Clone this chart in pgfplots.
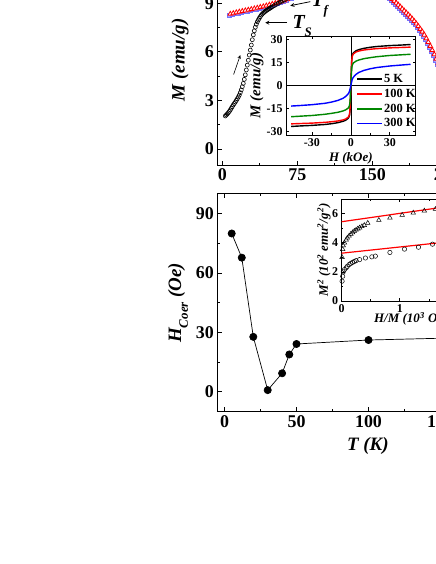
\documentclass[border=0pt]{standalone}
\usepackage{pgfplots}
\pgfplotsset{compat=1.18}
\usepackage{fontspec}
\setmainfont{Liberation Serif}
\newcommand{\fs}[1]{\fontsize{#1}{#1}\selectfont}
\definecolor{mygreen}{RGB}{0,135,0}
\pgfplotsset{
 base/.style={scale only axis, tick align=inside,
   axis line style={line width=1.1bp},
   major tick style={line width=0.9bp, black}, minor tick style={line width=0.8bp, black},
   major tick length=4.5bp, minor tick length=2.5bp,
   /pgf/number format/assume math mode=true,
   axis background/.style={fill=white}},
 main/.style={base, tick label style={font=\bfseries\fs{18}}, label style={font=\bfseries\itshape\fs{19}}},
 inset/.style={base, axis line style={line width=0.8bp}, major tick style={line width=0.7bp}, minor tick style={line width=0.6bp},
   major tick length=3bp, minor tick length=1.8bp,
   tick label style={font=\bfseries\fs{12}}, label style={font=\bfseries\itshape\fs{13}}},
}
\pgfplotstableread{
T M
3 2.04
4 2.10
5 2.17
6 2.24
7 2.32
8 2.41
9 2.52
10 2.62
11 2.72
12 2.81
13 2.90
14 3.00
15 3.10
16 3.21
17 3.33
18 3.48
19 3.65
20 3.85
21 4.05
22 4.30
23 4.58
24 4.88
25 5.18
26 5.48
27 5.80
28 6.11
29 6.42
30 6.75
31 7.05
32 7.30
33 7.52
34 7.70
35 7.85
36 7.97
37 8.08
38 8.18
39 8.27
40 8.34
41 8.40
42 8.45
43 8.50
44 8.55
45 8.59
46 8.63
47 8.67
48 8.71
49 8.75
50 8.79
52 8.86
54 8.93
56 9.00
58 9.07
60 9.14
62 9.21
65 9.30
70 9.42
}\zfc
\pgfplotstableread{
T M
8 8.34
11 8.38
14 8.43
17 8.47
20 8.51
23 8.55
26 8.59
29 8.63
32 8.67
35 8.71
38 8.76
41 8.80
44 8.85
47 8.90
50 8.95
53 9.00
56 9.05
59 9.10
62 9.16
65 9.24
70 9.38
80 9.62
90 9.85
100 10.05
110 10.2
120 10.3
130 10.35
140 10.3
150 10.15
155 10.0
160 9.8
162 9.7
164 9.6
166 9.5
168 9.38
170 9.26
172 9.14
174 9.02
176 8.90
178 8.78
180 8.65
182 8.53
184 8.41
186 8.29
188 8.16
190 8.03
192 7.89
194 7.74
196 7.58
198 7.41
200 7.24
202 7.05
204 6.83
206 6.60
208 6.36
210 6.10
212 5.84
214 5.57
216 5.30
218 5.02
220 4.74
}\fc
\begin{document}
\begin{tikzpicture}[>=stealth]
\useasboundingbox (0bp,0bp) rectangle (436bp,564bp);
\clip (0bp,0bp) rectangle (436bp,564bp);
% ---------------- top main panel
\begin{axis}[main, at={(217.3bp,398.8bp)}, anchor=south west,
  width=305bp, height=210.5bp, xmin=-5, xmax=300, ymin=-1, ymax=12,
  xtick={0,75,150,225,300}, ytick={0,3,6,9,12}, minor x tick num=1, minor y tick num=1,
  ylabel={M (emu/g)}, ylabel style={at={(axis description cs:-0.122,0.5)}, anchor=center}]
\addplot[only marks, mark=square*, mark size=1.7bp, draw=blue!55, fill=blue!35,
  every mark/.append style={xshift=-1bp, yshift=-1.3bp}] table[x=T,y=M] {\fc};
\addplot[only marks, mark=triangle*, mark size=2.7bp, draw=red, fill=white, line width=0.8bp] table[x=T,y=M] {\fc};
\addplot[only marks, mark=o, mark size=2bp, black, line width=0.6bp] table[x=T,y=M] {\zfc};
\draw[->, line width=0.6bp] (axis cs:11.3,4.6) -- (axis cs:18,5.8);
\draw[->, line width=0.8bp] (axis cs:64.7,7.8) -- (axis cs:43,7.8);
\draw[->, line width=0.8bp] (axis cs:88,9.1) -- (axis cs:68,8.85);
\node[anchor=base west, inner sep=0pt, font=\bfseries\itshape\fs{20}] at (axis cs:70,7.47) {T\raisebox{-0.4em}{\fs{13}S}};
\node[anchor=base west, inner sep=0pt, font=\bfseries\itshape\fs{20}] at (axis cs:89,8.79) {T\raisebox{-0.4em}{\fs{13}f}};
\end{axis}
% ---------------- top inset
\begin{axis}[inset, at={(286bp,429bp)}, anchor=south west,
  width=129.7bp, height=99bp, xmin=-50, xmax=50, ymin=-32.5, ymax=32.5,
  xtick={-30,0,30}, ytick={-30,-15,0,15,30}, minor x tick num=1,
  xlabel={H (kOe)}, ylabel={M (emu/g)},
  xlabel style={at={(axis description cs:0.5,-0.232)}, anchor=center},
  ylabel style={at={(axis description cs:-0.226,0.5)}, anchor=center, font=\bfseries\itshape\fs{15}},
  legend style={at={(axis cs:4,8.2)}, anchor=north west, draw=none, fill=none,
    font=\bfseries\fs{12.5}, inner sep=0pt, row sep=2.6bp, nodes={inner sep=1.2bp}},
  legend cell align=left,
  legend image code/.code={\draw[#1, line width=1.7bp] (0bp,0bp) -- (25bp,0bp);}]
\draw[line width=0.7bp] (axis cs:-50,0) -- (axis cs:50,0);
\draw[line width=0.7bp] (axis cs:0,-32.5) -- (axis cs:0,32.5);
\addplot[black, line width=1.4bp] coordinates {(-46,-26.9) (-40,-26.6) (-30,-26.2) (-20,-25.6) (-15,-25.1) (-10,-24.4) (-6,-23.5) (-4,-22.8) (-2,-21.5) (-1.5,-20.7) (-1,-19.5) (-0.6,-16) (-0.3,-9) (0,0) (0.3,9) (0.6,16) (1,19.5) (1.5,20.7) (2,21.5) (4,22.8) (6,23.5) (10,24.4) (15,25.1) (20,25.6) (30,26.2) (40,26.6) (46,26.9)};
\addlegendentry{5 K}
\addplot[red, line width=1.4bp] coordinates {(-46,-25.2) (-40,-25.0) (-30,-24.7) (-20,-24.2) (-15,-23.8) (-10,-23.3) (-6,-22.6) (-4,-22) (-2,-20.8) (-1.5,-20) (-1,-18.8) (-0.6,-15) (-0.3,-8) (0,0) (0.3,8) (0.6,15) (1,18.8) (1.5,20) (2,20.8) (4,22) (6,22.6) (10,23.3) (15,23.8) (20,24.2) (30,24.7) (40,25.0) (46,25.2)};
\addlegendentry{100 K}
\addplot[mygreen, line width=1.4bp] coordinates {(-46,-20.5) (-40,-20.2) (-30,-19.7) (-20,-18.9) (-15,-18.3) (-10,-17.6) (-6,-16.7) (-4,-16) (-2,-14.8) (-1.5,-14.1) (-1,-13) (-0.6,-10.5) (-0.3,-6) (0,0) (0.3,6) (0.6,10.5) (1,13) (1.5,14.1) (2,14.8) (4,16) (6,16.7) (10,17.6) (15,18.3) (20,18.9) (30,19.7) (40,20.2) (46,20.5)};
\addlegendentry{200 K}
\addplot[blue, line width=1.4bp] coordinates {(-46,-13.5) (-40,-13.2) (-30,-12.6) (-20,-11.7) (-15,-10.9) (-10,-9.8) (-6,-8.4) (-4,-7.2) (-3,-6.4) (-2,-5.4) (-1.5,-4.7) (-1,-3.7) (-0.5,-2) (0,0) (0.5,2) (1,3.8) (1.5,4.8) (2,5.5) (3,6.5) (4,7.3) (6,8.5) (10,9.9) (15,11) (20,11.8) (30,12.8) (40,13.5) (46,13.9)};
\addlegendentry{300 K}
\end{axis}
% ---------------- bottom main panel
\begin{axis}[main, at={(217.3bp,152.3bp)}, anchor=south west,
  width=302.4bp, height=217.8bp, xmin=-5, xmax=205, ymin=-10, ymax=100,
  xtick={0,50,100,150,200}, ytick={0,30,60,90}, minor x tick num=1, minor y tick num=1,
  xlabel={T (K)}, ylabel={H\raisebox{-0.35em}{\fs{13}Coer} (Oe)},
  xlabel style={at={(axis description cs:0.498,-0.158)}, anchor=center},
  ylabel style={at={(axis description cs:-0.13,0.5)}, anchor=center}]
\addplot[black, line width=0.7bp, mark=*, mark size=3.6bp] coordinates {(5,80) (12,67.8) (20,27.8) (30,0.9) (40,9.4) (45,18.9) (50,24.2) (100,26.2) (150,27.1) (200,27.9)};
\end{axis}
% ---------------- bottom inset
\begin{axis}[inset, at={(341.5bp,263bp)}, anchor=south west,
  width=175bp, height=102bp, xmin=0, xmax=3, ymin=0, ymax=7,
  xtick={0,1,2,3}, ytick={0,2,4,6}, minor x tick num=1, minor y tick num=1,
  xlabel={H/M (10\textsuperscript{3} Oe g/emu)}, ylabel={M\textsuperscript{2} (10\textsuperscript{2} emu\textsuperscript{2}/g\textsuperscript{2})},
  xlabel style={at={(axis description cs:0.5,-0.175)}, anchor=center},
  ylabel style={at={(axis description cs:-0.1,0.5)}, anchor=center}]
\addplot[red, line width=1.2bp] coordinates {(0,5.44) (3,7.16)};
\addplot[red, line width=1.2bp] coordinates {(0,3.28) (3,4.56)};
\addplot[only marks, mark=triangle, mark size=2.6bp, black, line width=0.5bp] coordinates {(0.01,3.0) (0.02,3.55) (0.03,3.8) (0.05,4.0) (0.08,4.2) (0.10,4.33) (0.13,4.47) (0.16,4.6) (0.19,4.7) (0.22,4.8) (0.25,4.88) (0.28,4.96) (0.31,5.03) (0.35,5.12) (0.39,5.2) (0.45,5.35) (0.64,5.55) (0.83,5.71) (1.04,5.9) (1.23,6.05) (1.42,6.19) (1.61,6.3) (1.8,6.42) (2.0,6.55) (2.2,6.67) (2.4,6.79)};
\addplot[only marks, mark=o, mark size=2.2bp, black, line width=0.5bp] coordinates {(0.01,1.36) (0.02,1.7) (0.03,2.0) (0.05,2.15) (0.08,2.27) (0.10,2.38) (0.13,2.5) (0.16,2.58) (0.19,2.65) (0.22,2.71) (0.25,2.77) (0.31,2.84) (0.41,2.95) (0.52,3.03) (0.58,3.08) (0.83,3.33) (1.08,3.56) (1.32,3.69) (1.56,3.9) (1.8,4.05) (2.0,4.18) (2.2,4.3) (2.4,4.42)};
\end{axis}
\end{tikzpicture}
\end{document}
